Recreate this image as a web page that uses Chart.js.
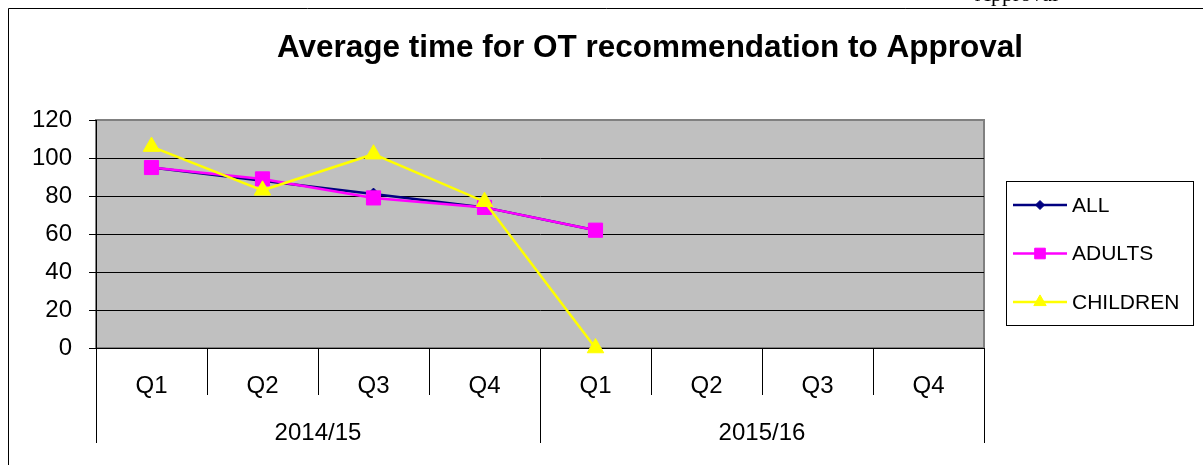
<!DOCTYPE html>
<html>
<head>
<meta charset="utf-8">
<title>Average time for OT recommendation to Approval</title>
<script src="https://cdn.jsdelivr.net/npm/chart.js@4.4.0/dist/chart.umd.min.js"></script>
<style>
    html, body { margin: 0; padding: 0; background: #fff; overflow: hidden; }
    #wrap { position: relative; width: 1203px; height: 465px; }
    #pageText {
        position: absolute; left: 975px; top: -19px; line-height: 22px;
        font: 22px "Liberation Serif", "Times New Roman", serif; color: #000;
        z-index: 2;
    }
</style>
</head>
<body>
<div id="wrap">
    <div id="pageText">Approval</div>
    <canvas id="otChart"></canvas>
</div>
<script>
// Chart data
const quarters = ['Q1', 'Q2', 'Q3', 'Q4', 'Q1', 'Q2', 'Q3', 'Q4'];
const years = ['2014/15', '2015/16'];
const quartersPerYear = 4;
const allValues = [95, 88, 81, 74, 62, null, null, null];
const adultValues = [95, 89, 79, 74, 62, null, null, null];
const childValues = [106, 83, 102, 77, 0, null, null, null];
const yTicks = [0, 20, 40, 60, 80, 100, 120];
const chartTitle = 'Average time for OT recommendation to Approval';

const FONT = '"Liberation Sans", Arial, sans-serif';

// Outer frame + grey plot area, drawn under the scales
const framePlugin = {
    id: 'frame',
    beforeDraw(chart) {
        const { ctx, chartArea: a } = chart;
        ctx.save();
        ctx.fillStyle = '#fff';
        ctx.fillRect(0, 0, chart.width, chart.height);
        ctx.strokeStyle = '#000';
        ctx.lineWidth = 1;
        ctx.beginPath();
        ctx.moveTo(8.5, chart.height + 5);
        ctx.lineTo(8.5, 8.5);
        ctx.lineTo(chart.width + 5, 8.5);
        ctx.stroke();
        ctx.fillStyle = '#c0c0c0';
        ctx.fillRect(a.left, a.top, a.right - a.left, a.bottom - a.top);
        ctx.strokeStyle = '#808080';
        ctx.lineWidth = 2;
        ctx.strokeRect(a.left, a.top, a.right - a.left, a.bottom - a.top);
        ctx.restore();
    }
};

// Title, category separators, year labels and legend
const decorPlugin = {
    id: 'decor',
    afterDraw(chart) {
        const { ctx, chartArea: a } = chart;
        const x = chart.scales.x;
        const step = x.getPixelForValue(1) - x.getPixelForValue(0);
        const first = x.getPixelForValue(0) - step / 2;
        ctx.save();

        // title
        ctx.fillStyle = '#000';
        ctx.font = `bold 31.5px ${FONT}`;
        ctx.textAlign = 'center';
        ctx.textBaseline = 'alphabetic';
        ctx.fillText(chartTitle, 650, 57);

        // separators under the axis
        ctx.strokeStyle = '#000';
        ctx.lineWidth = 1;
        for (let i = 0; i <= quarters.length; i++) {
            const px = Math.round(first + i * step) + 0.5;
            const long = i % quartersPerYear === 0;
            ctx.beginPath();
            ctx.moveTo(px, a.bottom);
            ctx.lineTo(px, a.bottom + (long ? 95 : 47));
            ctx.stroke();
        }

        // year labels
        ctx.font = `24px ${FONT}`;
        ctx.textBaseline = 'middle';
        years.forEach((yr, g) => {
            const c = (x.getPixelForValue(g * quartersPerYear) +
                       x.getPixelForValue(g * quartersPerYear + quartersPerYear - 1)) / 2;
            ctx.fillText(yr, c, a.bottom + 85);
        });

        // legend
        const box = { left: 1006.5, top: 181.5, width: 187, height: 144 };
        ctx.fillStyle = '#fff';
        ctx.fillRect(box.left, box.top, box.width, box.height);
        ctx.strokeStyle = '#000';
        ctx.strokeRect(box.left, box.top, box.width, box.height);
        ctx.font = `21px ${FONT}`;
        ctx.textAlign = 'left';
        chart.data.datasets.forEach((ds, i) => {
            const ly = 205 + i * 48.5;
            ctx.strokeStyle = ds.borderColor;
            ctx.lineWidth = 2.5;
            ctx.beginPath();
            ctx.moveTo(1013, ly);
            ctx.lineTo(1067, ly);
            ctx.stroke();
            ctx.fillStyle = ds.backgroundColor;
            ctx.lineWidth = 1;
            Chart.helpers.drawPoint(ctx, {
                pointStyle: ds.pointStyle,
                radius: ds.pointRadius * 0.75,
                rotation: 0,
                borderWidth: 1
            }, 1040, ly);
            ctx.fillStyle = '#000';
            ctx.fillText(ds.label, 1072, ly + 1);
        });
        ctx.restore();
    }
};

function lineSet(label, values, color, style, radius, order) {
    return {
        label: label,
        data: values,
        borderColor: color,
        backgroundColor: color,
        pointBackgroundColor: color,
        pointBorderColor: color,
        pointStyle: style,
        pointRadius: radius,
        pointBorderWidth: 1,
        borderWidth: 2.5,
        tension: 0,
        clip: false,
        order: order
    };
}

new Chart(document.getElementById('otChart'), {
    type: 'line',
    data: {
        labels: quarters,
        datasets: [
            lineSet('ALL', allValues, '#000080', 'rectRot', 6, 3),
            lineSet('ADULTS', adultValues, '#ff00ff', 'rect', 10, 2),
            lineSet('CHILDREN', childValues, '#ffff00', 'triangle', 9.5, 1)
        ]
    },
    options: {
        responsive: true,
        maintainAspectRatio: false,
        animation: false,
        events: [],
        layout: { padding: { left: 0, right: 219, top: 120, bottom: 17 } },
        plugins: {
            legend: { display: false },
            title: { display: false },
            tooltip: { enabled: false }
        },
        scales: {
            x: {
                offset: true,
                afterFit: s => { s.height = 100; },
                ticks: {
                    color: '#000',
                    font: { family: FONT, size: 24 },
                    padding: 16,
                    maxRotation: 0,
                    autoSkip: false
                },
                grid: { display: false },
                border: { display: true, color: '#000', width: 1 }
            },
            y: {
                min: 0,
                max: 120,
                afterBuildTicks: s => { s.ticks = yTicks.map(v => ({ value: v })); },
                afterFit: s => { s.width = 96; },
                ticks: {
                    color: '#000',
                    font: { family: FONT, size: 24 },
                    padding: 17
                },
                grid: {
                    color: c => (c.tick && c.tick.value === 120) ? 'rgba(0,0,0,0)' : '#000',
                    tickColor: '#000',
                    tickLength: 7,
                    lineWidth: 1
                },
                border: { color: '#000', width: 1 }
            }
        }
    },
    plugins: [framePlugin, decorPlugin]
});
</script>
</body>
</html>
